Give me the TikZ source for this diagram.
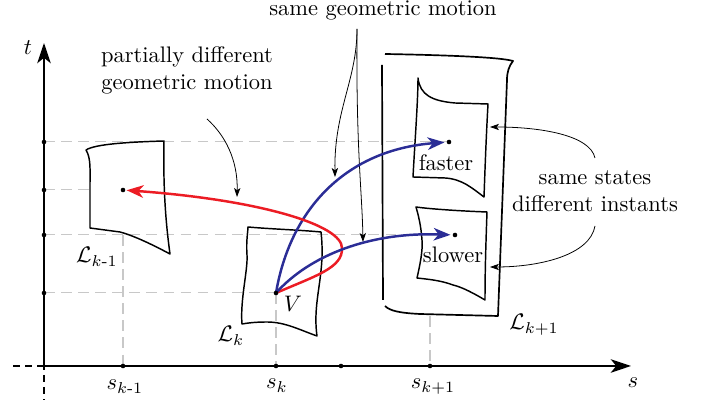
\documentclass[tikz,border=0pt]{standalone}
\usepackage{amsmath}
\usetikzlibrary{arrows.meta}
\definecolor{myblue}{RGB}{43,45,150}
\definecolor{myred}{RGB}{236,28,36}
\definecolor{guidegray}{RGB}{200,200,200}
\tikzset{
  axisline/.style={line width=0.9pt,-{Stealth[length=9pt,width=6pt,inset=2.4pt]}},
  axisext/.style={line width=0.8pt,dash pattern=on 3.1pt off 2.3pt},
  guide/.style={guidegray,line width=0.45pt,dash pattern=on 4.8pt off 2.8pt},
  frame/.style={line width=0.65pt,line join=round},
  bigframe/.style={line width=0.75pt,line join=round},
  motion/.style={line width=1.1pt,-{Stealth[length=7.5pt,width=5.6pt,inset=2.2pt]}},
  note/.style={line width=0.35pt,-{Stealth[length=4pt,width=2.8pt,inset=1pt]}},
  txt/.style={inner sep=0pt,outer sep=0pt},
}
\begin{document}
\begin{tikzpicture}[x=0.445pt,y=-0.445pt]
\useasboundingbox (0,0) rectangle (705,405);
% key points
\coordinate (O) at (44,366);
\coordinate (tTop) at (44,43);
\coordinate (sEnd) at (631,366);
\coordinate (xLeft) at (8,366);
\coordinate (yDown) at (44,400);
\coordinate (t1) at (44,142);
\coordinate (t2) at (44,190);
\coordinate (t3) at (44,235);
\coordinate (t4) at (44,293);
\coordinate (s1) at (123,366);
\coordinate (s2) at (276,366);
\coordinate (s3) at (341,366);
\coordinate (s4) at (430,366);
\coordinate (Pprev) at (123,190);
\coordinate (V) at (276,293);
\coordinate (Pfast) at (449,142);
\coordinate (Pslow) at (455,235);
\coordinate (Lprevleft) at (89,190);
\coordinate (Lprevbot) at (123,235);
\coordinate (Lnextbot) at (430,316);
\coordinate (redTurn) at (342,248);

% guides
\draw[guide] (t1) -- (Pfast);
\draw[guide] (t2) -- (Lprevleft);
\draw[guide] (t3) -- (Pslow);
\draw[guide] (t4) -- (V);
\draw[guide] (Lprevbot) -- (s1);
\draw[guide] (V) -- (s2);
\draw[guide] (Lnextbot) -- (s4);

% axes
\draw[axisline] (O) -- (tTop);
\draw[axisline] (O) -- (sEnd);
\draw[axisext] (O) -- (xLeft);
\draw[axisext,dash phase=1.5pt] (O) -- (yDown);

% L_{k-1}
\draw[frame] (90,228) -- (120,232) .. controls (135,236) and (155,246) .. (170,254)
  .. controls (166,225) and (163,190) .. (164,141)
  .. controls (130,142) and (95,144) .. (86,150)
  .. controls (91,158) and (90,170) .. (90,185) -- cycle;
% L_k
\draw[frame] (248,227) .. controls (270,229) and (300,230) .. (321,232)
  .. controls (326,275) and (312,300) .. (317,336)
  .. controls (300,330) and (285,322) .. (267,322)
  .. controls (255,322) and (248,323) .. (242,324)
  .. controls (240,300) and (248,270) .. (247,255)
  .. controls (246,240) and (248,232) .. (248,227) -- cycle;
% L_{k+1}
\draw[bigframe] (382,65) -- (383,300);
\draw[bigframe] (385,54) .. controls (440,55) and (500,57) .. (513,61)
  .. controls (509,66) and (507,72) .. (507,80) -- (498,316)
  -- (420,314) .. controls (400,313) and (390,311) .. (385,306);
% faster box
\draw[frame] (418,78) .. controls (420,95) and (432,101) .. (455,103) -- (488,104)
  .. controls (486,140) and (485,170) .. (484,197)
  .. controls (472,188) and (462,179) .. (445,178) -- (413,177)
  .. controls (415,140) and (418,100) .. (418,78) -- cycle;
% slower box
\draw[frame] (416,207) .. controls (430,209) and (460,211) .. (487,212)
  .. controls (486,240) and (485,270) .. (485,300)
  .. controls (475,294) and (462,287) .. (453,285)
  .. controls (440,280) and (425,279) .. (417,278)
  .. controls (420,265) and (423,250) .. (422,240)
  .. controls (421,225) and (418,214) .. (416,207) -- cycle;

% texts
\node[txt,anchor=base] (tlab) at (28,55) {$t$};
\node[txt,anchor=base] (slab) at (633,388) {$s$};
\node[txt,anchor=base] (sk1) at (125,390) {$s_{k\text{-}1}$};
\node[txt,anchor=base] (sk) at (277,389) {$s_k$};
\node[txt,anchor=base] (skp) at (433,389) {$s_{k+1}$};
\node[txt,anchor=base] (Lk1lab) at (97,263) {$\mathcal{L}_{k\text{-}1}$};
\node[txt,anchor=base] (Lklab) at (231,342) {$\mathcal{L}_k$};
\node[txt,anchor=base] (Lkplab) at (534,330) {$\mathcal{L}_{k+1}$};
\node[txt,anchor=base] (Vlab) at (293,312) {$V$};
\node[txt,anchor=base] (fast) at (446,170.5) {faster};
\node[txt,anchor=base] (slow) at (453,263) {slower};
\node[txt,align=center] (pdgm) at (187,70) {partially different\\geometric motion};
\node[txt,anchor=base] (sgm) at (383,15.5) {same geometric motion};
\node[txt,align=center] (ssdi) at (595,191) {same states\\different instants};

% annotation arrows
\coordinate (pdStart) at (207,119);
\coordinate (pdEnd) at (237,197);
\draw[note] (pdStart) .. controls (225,135) and (238,160) .. (pdEnd);
\coordinate (sgStart) at (357,29);
\coordinate (sgEndA) at (335,177);
\coordinate (sgEndB) at (363,242);
\draw[note] (sgStart) .. controls (357,80) and (334,110) .. (sgEndA);
\draw[note] (sgStart) .. controls (356,150) and (362,190) .. (sgEndB);
\coordinate (ssUp) at (595,158);
\coordinate (ssDown) at (595,226);
\coordinate (fastEdge) at (490,127);
\coordinate (slowEdge) at (490,267);
\draw[note] (ssUp) .. controls (590,135) and (540,127) .. (fastEdge);
\draw[note] (ssDown) .. controls (590,255) and (540,267) .. (slowEdge);

% motions
\draw[motion,myblue,shorten >=2pt] (V) .. controls (290,210) and (345,150) .. (Pfast);
\draw[motion,myred,shorten >=1.6pt] (V) .. controls (315,276) and (343,268) .. (redTurn)
  .. controls (342,225) and (260,200) .. (Pprev);
\draw[motion,myblue,shorten >=2pt] (V) .. controls (310,255) and (370,232) .. (Pslow);

% dots
\foreach \p in {t1,t2,t3,t4,s1,s2,s3,s4,Pprev,V,Pfast,Pslow}
  \fill (\p) circle[radius=2.3];
\end{tikzpicture}
\end{document}
